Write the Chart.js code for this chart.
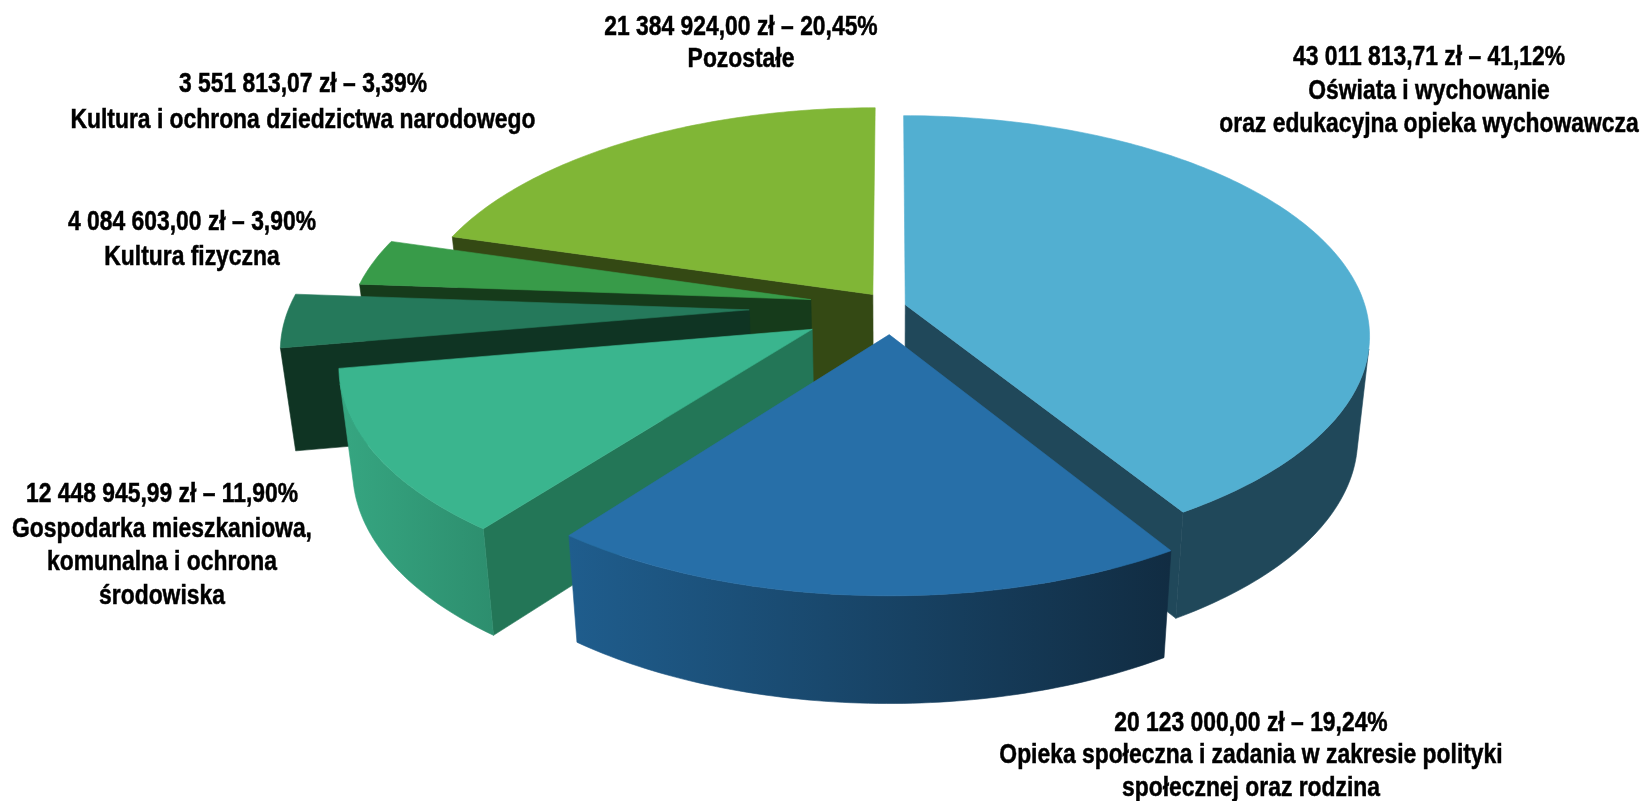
<!DOCTYPE html>
<html lang="pl">
<head>
<meta charset="utf-8">
<style>html,body{margin:0;padding:0;background:#fff}canvas{display:block}</style>
<script src="https://cdn.jsdelivr.net/npm/chart.js@4/dist/chart.umd.min.js"></script>
</head>
<body>
<canvas id="c" width="1645" height="801"></canvas>
<script>
const categories = [
  "Oświata i wychowanie oraz edukacyjna opieka wychowawcza",
  "Opieka społeczna i zadania w zakresie polityki społecznej oraz rodzina",
  "Gospodarka mieszkaniowa, komunalna i ochrona środowiska",
  "Kultura fizyczna",
  "Kultura i ochrona dziedzictwa narodowego",
  "Pozostałe"
];
const amounts = [43011813.71, 20123000.00, 12448945.99, 4084603.00, 3551813.07, 21384924.00];
// explosion of each slice, in percent of the radius
const explode = [3, 12.8, 20, 31, 18, 7];
const topColors = ["#52AFD1", "#276FA8", "#3AB58E", "#25795B", "#389B49", "#80B636"];
const sideColors = ["#20485A", "#0F3423", "#237657", "#0F3423", "#163B1B", "#344914"];
const rimStart = ["#20485A", "#1F5D8D", "#36A681", "#0F3423", "#163B1B", "#344914"];
const rimEnd = ["#20485A", "#112C42", "#2D8E6E", "#0F3423", "#163B1B", "#344914"];
const paintOrder = [5, 4, 3, 2, 0, 1];
const labelLines = [
  ["43 011 813,71 zł – 41,12%", "Oświata i wychowanie", "oraz edukacyjna opieka wychowawcza"],
  ["20 123 000,00 zł – 19,24%", "Opieka społeczna i zadania w zakresie polityki", "społecznej oraz rodzina"],
  ["12 448 945,99 zł – 11,90%", "Gospodarka mieszkaniowa,", "komunalna i ochrona", "środowiska"],
  ["4 084 603,00 zł – 3,90%", "Kultura fizyczna"],
  ["3 551 813,07 zł – 3,39%", "Kultura i ochrona dziedzictwa narodowego"],
  ["21 384 924,00 zł – 20,45%", "Pozostałe"]
];
const labelX = [1429, 1251, 162, 192, 303, 741];
const labelY = [[58, 92, 125], [724, 756, 789], [495, 530, 563, 597], [223, 258], [85, 121], [28, 60]];
const textSqueeze = 0.847;

// view of the pie plane
const view = {cx: 892, cy: 306.5, sx: 460, sy: 216, k: 0.14, shrink: 0.975, depth: 102, dk: 0.1};
function project(X, Y, low) {
  const w = 1 - view.k * Y;
  let px = X * view.sx / w, py = Y * view.sy / w;
  if (low) { px *= view.shrink; py = py * view.shrink + view.depth / (1 - view.dk * Y); }
  return [view.cx + px, view.cy + py];
}
function area(pts) {
  let s = 0;
  for (let i = 0; i < pts.length; i++) {
    const a = pts[i], b = pts[(i + 1) % pts.length];
    s += a[0] * b[1] - b[0] * a[1];
  }
  return s / 2;
}
function fillPoly(ctx, pts, fill) {
  ctx.beginPath();
  pts.forEach((p, i) => i ? ctx.lineTo(p[0], p[1]) : ctx.moveTo(p[0], p[1]));
  ctx.closePath();
  ctx.fillStyle = fill;
  ctx.strokeStyle = fill;
  ctx.lineWidth = 0.6;
  ctx.fill();
  ctx.stroke();
}

const pie3d = {
  id: 'pie3d',
  beforeDatasetDraw(chart, args) {
    const ctx = chart.ctx, arcs = chart.getDatasetMeta(args.index).data;
    ctx.save();
    paintOrder.forEach(i => {
      const el = arcs[i], r = el.outerRadius;
      const a1 = el.startAngle, a2 = el.endAngle, mid = (a1 + a2) / 2;
      const d = el.options.offset / r;
      const ox = d * Math.cos(mid), oy = d * Math.sin(mid);
      const n = Math.max(8, Math.ceil((a2 - a1) * 60));
      const rimT = [], rimB = [];
      for (let j = 0; j <= n; j++) {
        const a = a1 + (a2 - a1) * j / n;
        rimT.push(project(ox + Math.cos(a), oy + Math.sin(a), false));
        rimB.push(project(ox + Math.cos(a), oy + Math.sin(a), true));
      }
      const apexT = project(ox, oy, false), apexB = project(ox, oy, true);
      const w1 = [apexT, rimT[0], rimB[0], apexB];
      const w2 = [rimT[n], apexT, apexB, rimB[n]];
      // walls seen almost edge-on are left out
      if (area(w1) < -1500) fillPoly(ctx, w1, sideColors[i]);
      if (area(w2) < -1500) fillPoly(ctx, w2, sideColors[i]);
      const upper = [], lower = [];
      for (let j = 0; j < n; j++) {
        if (area([rimT[j], rimT[j + 1], rimB[j + 1], rimB[j]]) < 0) {
          if (!upper.length) { upper.push(rimT[j]); lower.push(rimB[j]); }
          upper.push(rimT[j + 1]); lower.push(rimB[j + 1]);
        }
      }
      if (upper.length) {
        const poly = upper.concat(lower.slice().reverse());
        const xs = poly.map(p => p[0]);
        const g = ctx.createLinearGradient(Math.min(...xs), 0, Math.max(...xs), 0);
        g.addColorStop(0, rimStart[i]);
        g.addColorStop(1, rimEnd[i]);
        fillPoly(ctx, poly, g);
      }
      fillPoly(ctx, [apexT].concat(rimT), topColors[i]);
    });
    ctx.restore();
    return false;
  },
  afterDraw(chart) {
    const ctx = chart.ctx;
    ctx.save();
    ctx.fillStyle = '#000';
    ctx.strokeStyle = '#000';
    ctx.lineWidth = 0.5;
    ctx.font = 'bold 27px "Liberation Sans", Arial, sans-serif';
    ctx.textAlign = 'center';
    ctx.textBaseline = 'middle';
    labelLines.forEach((lines, i) => lines.forEach((t, j) => {
      ctx.save();
      ctx.translate(labelX[i], labelY[i][j]);
      ctx.scale(textSqueeze, 1);
      ctx.fillText(t, 0, 0);
      ctx.strokeText(t, 0, 0);
      ctx.restore();
    }));
    ctx.restore();
  }
};

new Chart(document.getElementById('c'), {
  type: 'pie',
  data: {
    labels: categories,
    datasets: [{data: amounts, backgroundColor: topColors, offset: explode, borderWidth: 0}]
  },
  options: {
    responsive: false,
    animation: false,
    radius: 100,
    events: [],
    plugins: {legend: {display: false}, tooltip: {enabled: false}}
  },
  plugins: [pie3d]
});
</script>
</body>
</html>
